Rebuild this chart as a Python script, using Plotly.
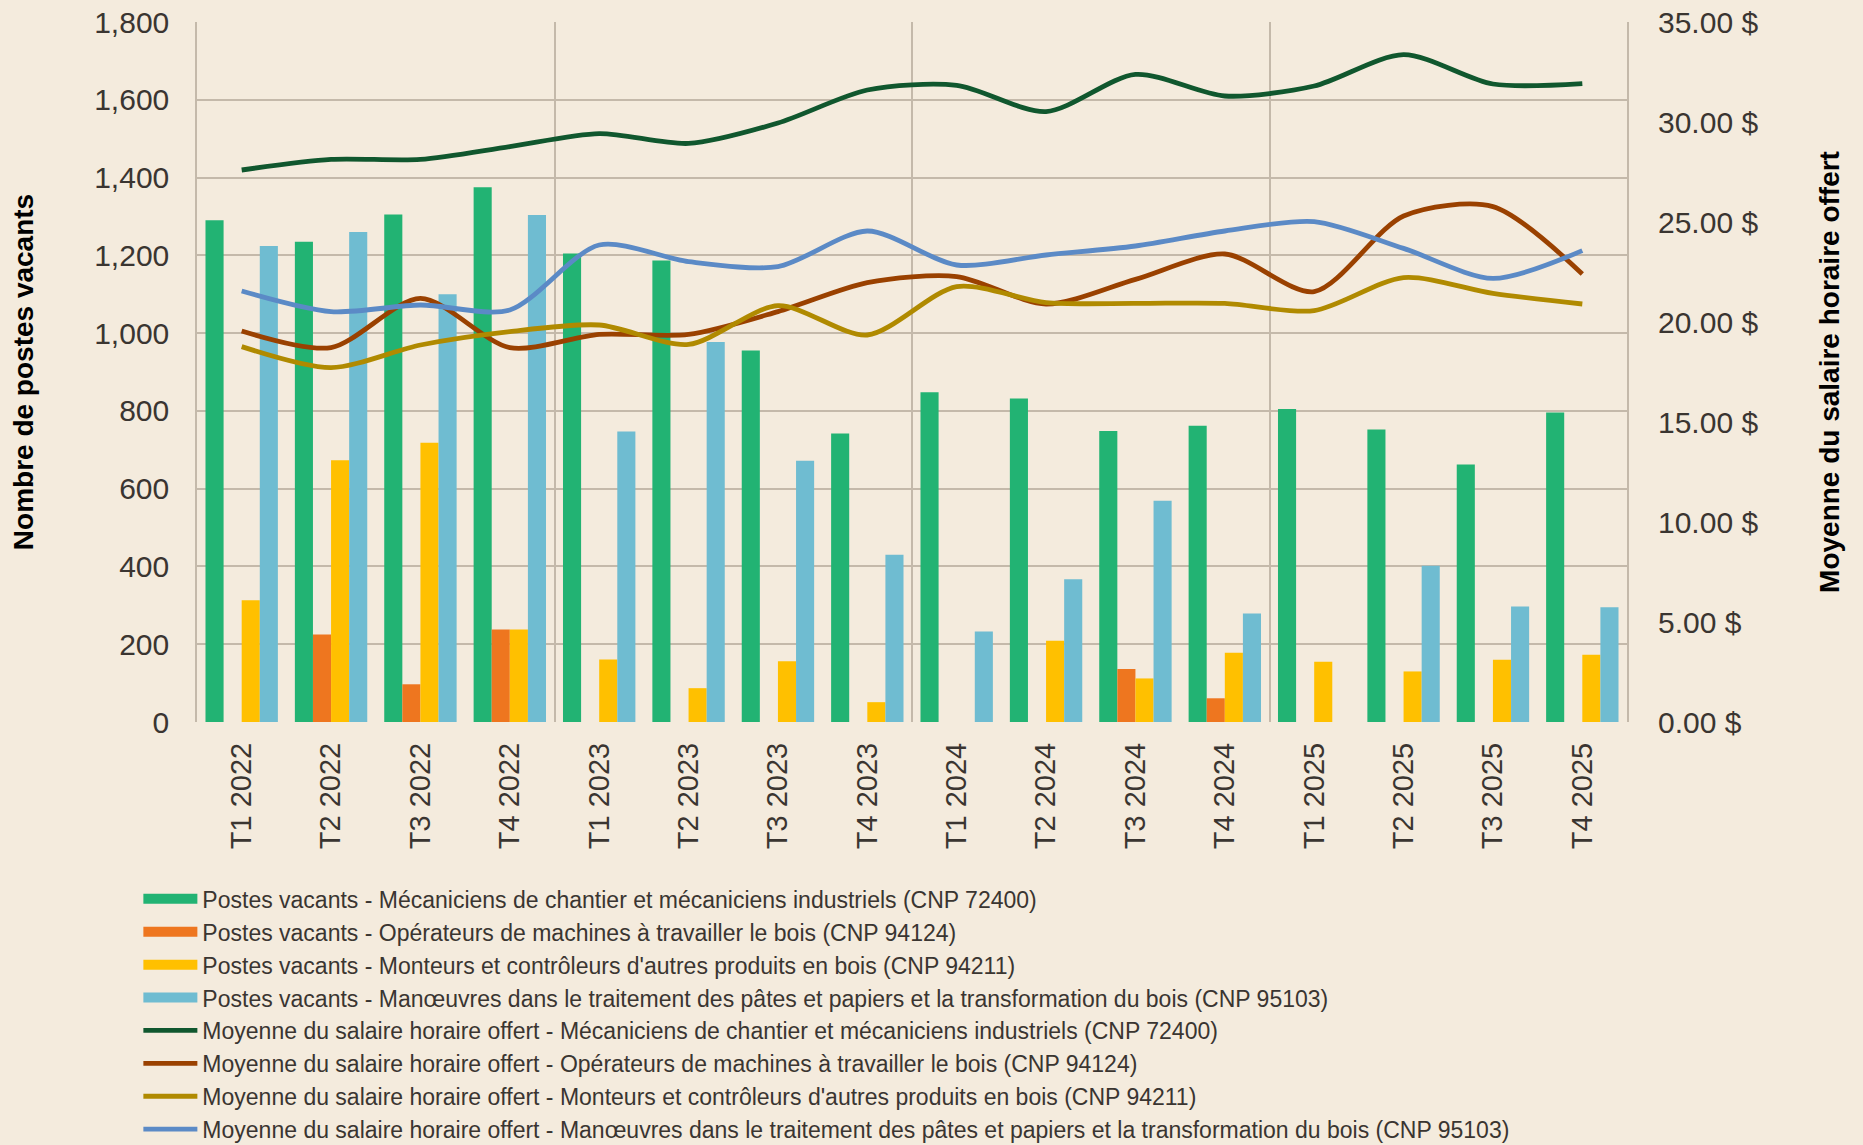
import plotly.graph_objects as go

categories = ["T1 2022", "T2 2022", "T3 2022", "T4 2022",
              "T1 2023", "T2 2023", "T3 2023", "T4 2023",
              "T1 2024", "T2 2024", "T3 2024", "T4 2024",
              "T1 2025", "T2 2025", "T3 2025", "T4 2025"]

postes_72400 = [1290, 1235, 1305, 1375, 1205, 1187, 955, 742, 848, 832, 748, 762, 805, 752, 662, 796]
postes_94124 = [None, 225, 97, 238, None, None, None, None, None, None, 136, 61, None, None, None, None]
postes_94211 = [313, 673, 718, 238, 161, 87, 156, 51, None, 209, 112, 178, 155, 130, 160, 173]
postes_95103 = [1224, 1260, 1100, 1304, 747, 977, 672, 430, 233, 367, 569, 279, None, 402, 297, 295]

salaire_72400 = [27.6, 28.13, 28.13, 28.77, 29.42, 28.93, 29.95, 31.6, 31.83, 30.52, 32.38, 31.3, 31.8, 33.37, 31.9, 31.92]
salaire_94124 = [19.55, 18.72, 21.18, 18.72, 19.38, 19.38, 20.52, 21.97, 22.27, 20.9, 22.13, 23.4, 21.52, 25.3, 25.77, 22.4]
salaire_94211 = [18.77, 17.72, 18.85, 19.52, 19.85, 18.88, 20.82, 19.35, 21.77, 20.97, 20.93, 20.93, 20.57, 22.22, 21.43, 20.9]
salaire_95103 = [21.55, 20.52, 20.85, 20.6, 23.85, 23.02, 22.77, 24.55, 22.85, 23.35, 23.8, 24.55, 25.02, 23.68, 22.18, 23.57]

bar_names = [
    "Postes vacants - Mécaniciens de chantier et mécaniciens industriels (CNP 72400)",
    "Postes vacants - Opérateurs de machines à travailler le bois (CNP 94124)",
    "Postes vacants - Monteurs et contrôleurs d'autres produits en bois (CNP 94211)",
    "Postes vacants - Manœuvres dans le traitement des pâtes et papiers et la transformation du bois (CNP 95103)",
]
line_names = [
    "Moyenne du salaire horaire offert - Mécaniciens de chantier et mécaniciens industriels (CNP 72400)",
    "Moyenne du salaire horaire offert - Opérateurs de machines à travailler le bois (CNP 94124)",
    "Moyenne du salaire horaire offert - Monteurs et contrôleurs d'autres produits en bois (CNP 94211)",
    "Moyenne du salaire horaire offert - Manœuvres dans le traitement des pâtes et papiers et la transformation du bois (CNP 95103)",
]

bar_colors = ["#22B373", "#EE761F", "#FFC000", "#6FBCD1"]
line_colors = ["#10572E", "#9A4100", "#B08A00", "#5B8AC6"]

BG = "#F4EBDD"
GRID = "#C4B9AA"
TXT = "#3A3531"
FONT = "Liberation Sans, Arial, sans-serif"

x = list(range(len(categories)))

fig = go.Figure()
for name, vals, col in zip(bar_names, [postes_72400, postes_94124, postes_94211, postes_95103], bar_colors):
    fig.add_trace(go.Bar(x=x, y=vals, name=name, marker=dict(color=col, line=dict(width=0)),
                         yaxis="y", showlegend=False, legendgroup=name))
    # wide rectangular legend swatch for the bar series
    fig.add_trace(go.Scatter(x=[None], y=[None], name=name, mode="lines", legendgroup=name,
                             line=dict(color=col, width=13), yaxis="y", hoverinfo="skip"))
for name, vals, col in zip(line_names, [salaire_72400, salaire_94124, salaire_94211, salaire_95103], line_colors):
    fig.add_trace(go.Scatter(x=x, y=vals, name=name, mode="lines",
                             line=dict(color=col, width=4.8, shape="spline", smoothing=0.8),
                             yaxis="y2"))

fig.update_layout(
    width=1863, height=1145,
    paper_bgcolor=BG, plot_bgcolor=BG,
    margin=dict(l=197, r=236, t=22, b=423, autoexpand=False),
    barmode="group", bargap=0.19, bargroupgap=0,
    font=dict(family=FONT, color=TXT, size=24),
    showlegend=True,
    legend=dict(orientation="v", x=-0.041, xanchor="left", y=-0.222, yanchor="top",
                font=dict(size=23, color=TXT, family=FONT), bgcolor="rgba(0,0,0,0)",
                itemwidth=54, tracegroupgap=0, traceorder="normal"),
    xaxis=dict(
        range=[-0.5, len(categories) - 0.5],
        tickmode="array", tickvals=x, ticktext=categories,
        tickangle=-90, tickfont=dict(size=29, color=TXT, family=FONT),
        showgrid=False, zeroline=False, ticks="", ticklabelstandoff=14,
        showline=False,
        minor=dict(dtick=4, tick0=-0.5, showgrid=True, gridcolor=GRID, gridwidth=1.5, ticks=""),
    ),
    yaxis=dict(
        range=[0, 1800], dtick=200, tickformat=",d",
        showgrid=True, gridcolor=GRID, gridwidth=1.5,
        zeroline=False, showline=True, linecolor=GRID, linewidth=1.5, mirror=True,
        tickfont=dict(size=30, color=TXT, family=FONT), ticks="", ticklabelstandoff=20,
        title=dict(text="<b>Nombre de postes vacants</b>", font=dict(size=28, color="#000000", family=FONT), standoff=52),
    ),
    yaxis2=dict(
        range=[0, 35], dtick=5, tickformat=".2f", ticksuffix=" $",
        overlaying="y", side="right", showgrid=False, zeroline=False,
        tickfont=dict(size=30, color=TXT, family=FONT), ticks="", ticklabelstandoff=30,
        title=dict(text="<b>Moyenne du salaire horaire offert</b>", font=dict(size=28, color="#000000", family=FONT), standoff=61),
    ),
)

fig.write_html("out.html", config={"responsive": False, "displayModeBar": False},
               post_script="document.body.style.margin='0';document.body.style.overflow='hidden';")
